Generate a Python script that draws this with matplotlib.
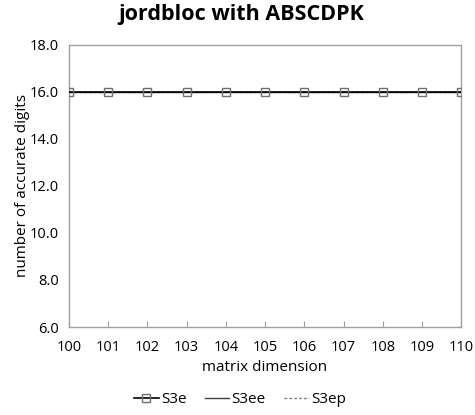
import matplotlib
matplotlib.use("Agg")
import matplotlib.pyplot as plt

plt.rcParams['font.family'] = ['Open Sans', 'DejaVu Sans']

# data
dims = [100, 101, 102, 103, 104, 105, 106, 107, 108, 109, 110]
s3e = [16.0] * 11
s3ee = [16.0] * 11
s3ep = [16.0] * 11
yticks = [6.0, 8.0, 10.0, 12.0, 14.0, 16.0, 18.0]

fig = plt.figure(figsize=(4.75, 4.15), dpi=100)
ax = fig.add_axes([0.145, 0.212, 0.826, 0.680])

ax.plot(dims, s3ep, color='#808080', linestyle=(0, (2, 1.5)), linewidth=1, label='S3ep', zorder=2)
ax.plot(dims, s3ee, color='#404040', linestyle='-', linewidth=1, label='S3ee', zorder=3)
ax.plot(dims, s3e, color='black', linestyle='-', linewidth=1.2, marker='s', markersize=6,
        markerfacecolor='none', markeredgecolor='#707070', markeredgewidth=1, label='S3e', zorder=4)

ax.set_xlim(100, 110)
ax.set_ylim(6, 18)
ax.set_xticks(dims)
ax.set_yticks(yticks)
ax.set_yticklabels([f"{v:.1f}" for v in yticks])
ax.tick_params(axis='x', direction='in', length=4, color='#a0a0a0', labelsize=10.5, pad=9)
ax.tick_params(axis='y', length=0, labelsize=10.5, pad=7)
for sp in ax.spines.values():
    sp.set_color('#a0a0a0')
    sp.set_linewidth(1)

ax.set_xlabel('matrix dimension', fontsize=11, labelpad=4)
ax.set_ylabel('number of accurate digits', fontsize=11, labelpad=0)
fig.suptitle('jordbloc with ABSCDPK', fontsize=15.5, fontweight='bold', x=0.507, y=0.99)

handles, labels = ax.get_legend_handles_labels()
order = [2, 1, 0]
ax.legend([handles[i] for i in order], [labels[i] for i in order], loc='center',
          bbox_to_anchor=(0.436, -0.258), ncol=3, frameon=False, fontsize=11,
          handlelength=1.6, handletextpad=0.15, columnspacing=1.2)

fig.savefig('out.png', dpi=100)
